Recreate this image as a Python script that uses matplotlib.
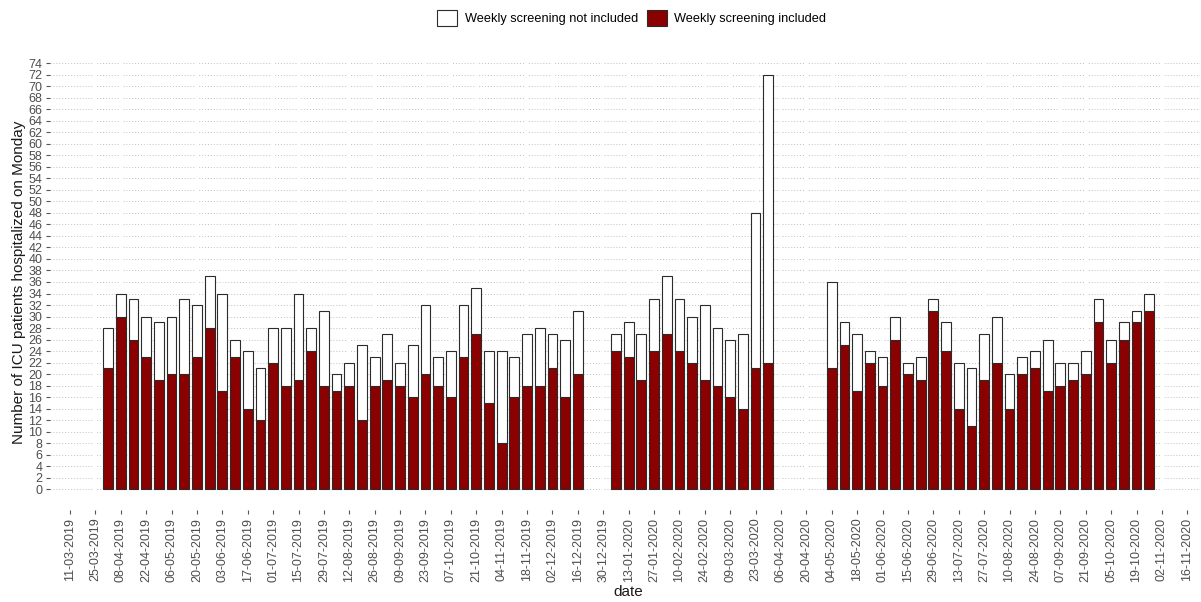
import matplotlib
matplotlib.use("Agg")
import matplotlib.pyplot as plt
import matplotlib.dates as mdates
from matplotlib.patches import Patch
import numpy as np
import pandas as pd

plt.rcParams['font.family'] = ['Liberation Sans', 'DejaVu Sans']

# weekly data, three periods (Mondays)
seg_starts = ['2019-04-01', '2020-01-06', '2020-05-04']

total_1 = [28, 34, 33, 30, 29, 30, 33, 32, 37, 34, 26, 24, 21, 28, 28, 34, 28, 31, 20,
           22, 25, 23, 27, 22, 25, 32, 23, 24, 32, 35, 24, 24, 23, 27, 28, 27, 26, 31]
incl_1 = [21, 30, 26, 23, 19, 20, 20, 23, 28, 17, 23, 14, 12, 22, 18, 19, 24, 18, 17,
          18, 12, 18, 19, 18, 16, 20, 18, 16, 23, 27, 15, 8, 16, 18, 18, 21, 16, 20]

total_2 = [27, 29, 27, 33, 37, 33, 30, 32, 28, 26, 27, 48, 72]
incl_2 = [24, 23, 19, 24, 27, 24, 22, 19, 18, 16, 14, 21, 22]

total_3 = [36, 29, 27, 24, 23, 30, 22, 23, 33, 29, 22, 21, 27, 30, 20, 23, 24, 26, 22,
           22, 24, 33, 26, 29, 31, 34]
incl_3 = [21, 25, 17, 22, 18, 26, 20, 19, 31, 24, 14, 11, 19, 22, 14, 20, 21, 17, 18,
          19, 20, 29, 22, 26, 29, 31]

tick_start = '2019-03-11'
tick_end = '2020-11-16'

RED = '#8b0000'
EDGE = '#2b2b2b'
TXT = '#4d4d4d'

# build one long table
dates, totals, included = [], [], []
for start, tot, inc in zip(seg_starts, [total_1, total_2, total_3], [incl_1, incl_2, incl_3]):
    dates += list(pd.date_range(start, periods=len(tot), freq='7D'))
    totals += tot
    included += inc
totals = np.array(totals)
included = np.array(included)
not_included = totals - included

fig = plt.figure(figsize=(12.01, 6.02), dpi=100)
ax = fig.add_axes([50 / 1201, 1 - 510 / 602, 1150 / 1201, 456 / 602])

ticks = pd.date_range(tick_start, tick_end, freq='14D')

# grid
for yv in np.arange(0, 75, 2):
    ax.axhline(yv, color='#bfbfbf', lw=0.7, ls=(0, (1, 2)), zorder=0)
for t in ticks:
    ax.axvline(t, color='white', lw=1.6, zorder=0.5)

ax.bar(dates, included, width=5.4, color=RED, edgecolor=EDGE, linewidth=0.8, zorder=2)
ax.bar(dates, not_included, bottom=included, width=5.4, color='white',
       edgecolor=EDGE, linewidth=0.8, zorder=2)

ax.set_xticks(ticks)
ax.xaxis.set_major_formatter(mdates.DateFormatter('%d-%m-%Y'))
plt.setp(ax.get_xticklabels(), rotation=90)
ax.set_xlim(pd.Timestamp(tick_start) - pd.Timedelta(days=11),
            pd.Timestamp(tick_end) + pd.Timedelta(days=7))

ax.set_yticks(np.arange(0, 75, 2))
ax.set_ylim(-3.6, 75.6)

ax.tick_params(axis='both', length=3, width=0.8, color='#555555', labelcolor=TXT,
               labelsize=9, pad=2.5)
for s in ax.spines.values():
    s.set_visible(False)

ax.set_ylabel('Number of ICU patients hospitalized on Monday', fontsize=11, color='#1a1a1a')
ax.yaxis.set_label_coords(-0.021, 0.5)
ax.set_xlabel('date', fontsize=11, color='#1a1a1a')
ax.xaxis.set_label_coords(0.503, -0.164)

handles = [Patch(facecolor='white', edgecolor=EDGE, linewidth=0.8, label='Weekly screening not included'),
           Patch(facecolor=RED, edgecolor=EDGE, linewidth=0.8, label='Weekly screening included')]
fig.legend(handles=handles, loc='center', bbox_to_anchor=(0.526, 0.970), ncol=2,
           frameon=False, fontsize=9.2, handlelength=1.56, handleheight=1.56,
           handletextpad=0.6, columnspacing=0.7)

fig.savefig('out.png', dpi=100)
